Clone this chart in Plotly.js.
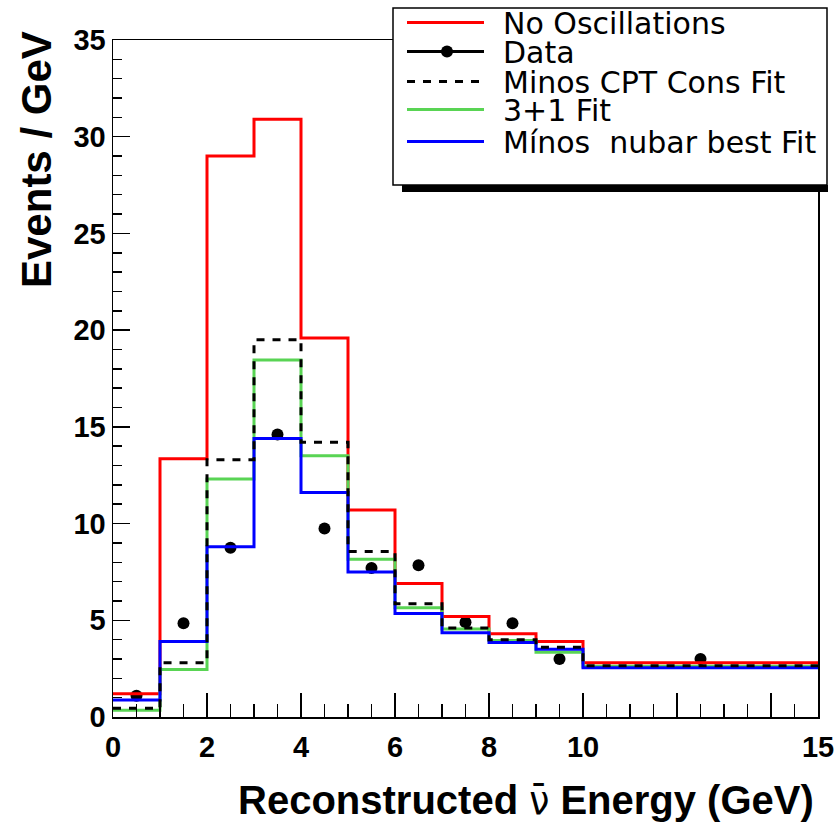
<!DOCTYPE html>
<html>
<head>
<meta charset="utf-8">
<script src="https://cdn.plot.ly/plotly-3.0.1.min.js"></script>
<style>html,body{margin:0;padding:0;background:#fff;}#chart{width:838px;height:824px;}</style>
</head>
<body>
<div id="chart"></div>
<script>
// ---- data ----
const binEdges   = [0, 1, 2, 3, 4, 5, 6, 7, 8, 9, 10, 15];
const binCenters = [0.5, 1.5, 2.5, 3.5, 4.5, 5.5, 6.5, 7.5, 8.5, 9.5, 12.5];
const noOscillations = [1.2, 13.35, 29.0, 30.9, 19.6, 10.7, 6.9, 5.2, 4.3, 3.9, 2.8];
const minosCptCons   = [0.45, 2.8, 13.3, 19.5, 14.2, 8.55, 5.85, 4.6, 4.0, 3.6, 2.65];
const fit3plus1      = [0.35, 2.45, 12.3, 18.45, 13.5, 8.15, 5.65, 4.55, 3.95, 3.35, 2.62];
const minosNubarBest = [0.88, 3.9, 8.8, 14.4, 11.6, 7.5, 5.35, 4.35, 3.85, 3.5, 2.55];
const dataPoints     = [1.1, 4.85, 8.75, 14.6, 9.75, 7.7, 7.85, 4.9, 4.85, 3.0, 3.0];
const xTickVals = [0, 2, 4, 6, 8, 10, 12, 14, 15];
const xTickText = ['0', '2', '4', '6', '8', '10', '', '', '15'];
const legendNames = ['No Oscillations', 'Data', 'Minos CPT Cons Fit', '3+1 Fit', 'Mínos  nubar best Fit'];
const xTitle = 'Reconstructed <span style="font-family:DejaVu Sans Condensed;font-weight:normal">ν\u0304</span> Energy (GeV)';
const yTitle = 'Events / GeV';

// ---- helpers ----
const stepY = v => v.concat([v[v.length - 1]]);
function stepTrace(name, vals, color, dash) {
  return {type: 'scatter', mode: 'lines', name: name, x: binEdges, y: stepY(vals),
          line: {shape: 'hv', color: color, width: 3, dash: dash || 'solid'},
          showlegend: false, hoverinfo: 'x+y'};
}

const traces = [
  {type: 'scatter', mode: 'markers', name: legendNames[1], x: binCenters, y: dataPoints,
   marker: {color: 'black', size: 12, symbol: 'circle'}, showlegend: false},
  stepTrace(legendNames[0], noOscillations, '#ff0000'),
  stepTrace(legendNames[3], fit3plus1, '#59d454'),
  stepTrace(legendNames[4], minosNubarBest, '#0000ff'),
  stepTrace(legendNames[2], minosCptCons, '#000000', '8px,8px')
];

// pixel -> paper conversion for the hand-drawn legend box and titles
const L = 113, R = 818, T = 40, B = 717;
const px = p => (p - L) / (R - L);
const py = p => (B - p) / (B - T);

const legendRows = [22.5, 51.5, 81.5, 109.5, 141.5];
const legendStyles = [
  {color: '#ff0000', dash: 'solid'},
  {color: '#000000', dash: 'solid'},
  {color: '#000000', dash: '8px,8px'},
  {color: '#59d454', dash: 'solid'},
  {color: '#0000ff', dash: 'solid'}
];

const shapes = [
  {type: 'rect', layer: 'above', xref: 'paper', yref: 'paper', x0: px(402), x1: px(828), y0: py(185), y1: py(192),
   fillcolor: 'black', line: {width: 0}},
  {type: 'rect', layer: 'above', xref: 'paper', yref: 'paper', x0: px(393), x1: px(827), y0: py(8), y1: py(185),
   fillcolor: 'white', line: {color: 'black', width: 1.5}}
];
const boldFont = (s) => ({family: 'Liberation Sans, Arial, sans-serif', size: s, color: 'black', weight: 'bold'});
const annotations = [
  {xref: 'paper', yref: 'paper', x: px(816), y: py(800), xanchor: 'right', yanchor: 'middle',
   text: xTitle, showarrow: false, font: boldFont(40)},
  {xref: 'paper', yref: 'paper', x: px(37), y: py(160), xanchor: 'center', yanchor: 'middle', textangle: -90,
   text: yTitle, showarrow: false, font: boldFont(42)}
];
legendRows.forEach((ry, i) => {
  shapes.push({type: 'line', layer: 'above', xref: 'paper', yref: 'paper', x0: px(407), x1: px(484), y0: py(ry), y1: py(ry),
               line: {color: legendStyles[i].color, width: 3, dash: legendStyles[i].dash}});
  annotations.push({xref: 'paper', yref: 'paper', x: px(501), y: py(ry + 1), xanchor: 'left', yanchor: 'middle',
                    text: legendNames[i], showarrow: false,
                    font: {family: 'DejaVu Sans', size: 30, color: 'black'}});
});
shapes.push({type: 'circle', layer: 'above', xref: 'paper', yref: 'paper', xsizemode: 'pixel', ysizemode: 'pixel',
             xanchor: px(447), yanchor: py(legendRows[1]), x0: -6, x1: 6, y0: -6, y1: 6,
             fillcolor: 'black', line: {color: 'black', width: 0}});

const tickFont = boldFont(29);

const layout = {
  width: 838, height: 824,
  margin: {l: L, r: 838 - R, t: T, b: 824 - B, pad: 0},
  paper_bgcolor: 'white', plot_bgcolor: 'white',
  showlegend: false,
  xaxis: {
    range: [0, 15], tickmode: 'array', tickvals: xTickVals, ticktext: xTickText,
    ticks: 'inside', ticklen: 24, tickwidth: 1.5, tickcolor: 'black',
    minor: {tickmode: 'linear', tick0: 0, dtick: 0.5, ticks: 'inside', ticklen: 13, tickwidth: 1.5, tickcolor: 'black', showgrid: false},
    showline: true, linewidth: 1.5, linecolor: 'black', mirror: true,
    showgrid: false, zeroline: false, ticklabelstandoff: 4,
    tickfont: tickFont
  },
  yaxis: {
    range: [0, 35], tickmode: 'linear', tick0: 0, dtick: 5,
    ticks: 'inside', ticklen: 17, tickwidth: 1.5, tickcolor: 'black',
    minor: {tickmode: 'linear', tick0: 0, dtick: 1, ticks: 'inside', ticklen: 9, tickwidth: 1.5, tickcolor: 'black', showgrid: false},
    showline: true, linewidth: 1.5, linecolor: 'black', mirror: true,
    showgrid: false, zeroline: false, ticklabelstandoff: 0,
    tickfont: tickFont
  },
  shapes: shapes,
  annotations: annotations
};

Plotly.newPlot('chart', traces, layout, {displayModeBar: false, staticPlot: true});
</script>
</body>
</html>
